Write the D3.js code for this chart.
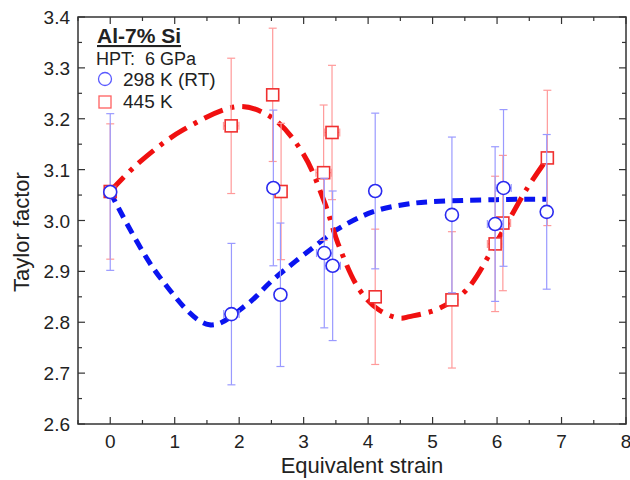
<!DOCTYPE html>
<html lang="en">
<head>
<meta charset="utf-8">
<script src="https://cdn.jsdelivr.net/npm/d3@7"></script>
<style>
  body { margin: 0; background: #fff; }
  text { font-family: "Liberation Sans", Arial, sans-serif; fill: #222; }
</style>
</head>
<body>
<svg id="mysvg" width="630" height="480"></svg>
<script>
// ---- data ----
// 298 K (RT), open circles
var rtX    = [0, 1.88, 2.53, 2.64, 3.32, 3.45, 4.11, 5.30, 5.97, 6.10, 6.77]
var rtY    = [3.056, 2.816, 3.064, 2.854, 2.936, 2.911, 3.058, 3.011, 2.993, 3.064, 3.017]
var rtErr  = [0.154, 0.139, 0.153, 0.141, 0.147, 0.147, 0.153, 0.153, 0.152, 0.154, 0.152]
var rtXErr = [0, 0.12, 0, 0, 0.12, 0.12, 0, 0, 0.12, 0.12, 0]

// 445 K, open squares
var htX    = [0, 1.876, 2.52, 2.65, 3.31, 3.44, 4.11, 5.30, 5.97, 6.09, 6.78]
var htY    = [3.057, 3.186, 3.247, 3.057, 3.094, 3.173, 2.850, 2.844, 2.954, 2.995, 3.123]
var htErr  = [0.133, 0.133, 0.131, 0.134, 0.133, 0.132, 0.133, 0.134, 0.133, 0.133, 0.133]
var htXErr = [0, 0.12, 0, 0, 0.12, 0.12, 0, 0, 0.12, 0.12, 0.05]

// guide-to-the-eye curves
var rtFitX = [0, 0.76, 1.54, 2.11, 2.52, 3.30, 3.50, 4.07, 4.59, 5.0, 6.0, 6.76]
var rtFitY = [3.056, 2.89, 2.795, 2.834, 2.883, 2.962, 2.981, 3.017, 3.032, 3.037, 3.041, 3.042]
var htFitX = [0, 0.43, 1.13, 2.0, 2.52, 2.99, 3.32, 3.55, 3.87, 4.17, 4.49, 4.64, 5.1, 5.52, 5.98, 6.45, 6.78]
var htFitY = [3.057, 3.112, 3.178, 3.224, 3.201, 3.132, 3.037, 2.949, 2.863, 2.824, 2.808, 2.811, 2.827, 2.863, 2.955, 3.06, 3.122]

var xTicks = [0, 1, 2, 3, 4, 5, 6, 7, 8]
var yTicks = [2.6, 2.7, 2.8, 2.9, 3.0, 3.1, 3.2, 3.3, 3.4]

var svg = d3.select("#mysvg")

var padL = 78, padR = 626, padT = 17, padB = 424

var x = d3.scaleLinear().domain([-0.5, 8]).range([padL, padR])
var y = d3.scaleLinear().domain([2.6, 3.4]).range([padB, padT])

// frame
svg.append("rect")
    .attr("x", padL).attr("y", padT)
    .attr("width", padR - padL).attr("height", padB - padT)
    .style("fill", "none").style("stroke", "#333").style("stroke-width", 1.5)

// ticks (inward, all four sides)
var xMinor = d3.range(-0.5, 8.01, 0.5)
var yMinor = d3.range(2.6, 3.401, 0.05)

function isMajorX(v) { return Math.abs(v - Math.round(v)) < 1e-6 }
function isMajorY(v) { return Math.abs(v * 10 - Math.round(v * 10)) < 1e-6 }

var tickG = svg.append("g").style("stroke", "#333").style("stroke-width", 1.2)
xMinor.forEach(function(v) {
    var len = isMajorX(v) ? 7 : 4
    tickG.append("line").attr("x1", x(v)).attr("x2", x(v)).attr("y1", padB).attr("y2", padB - len)
    tickG.append("line").attr("x1", x(v)).attr("x2", x(v)).attr("y1", padT).attr("y2", padT + len)
})
yMinor.forEach(function(v) {
    var len = isMajorY(v) ? 7 : 4
    tickG.append("line").attr("y1", y(v)).attr("y2", y(v)).attr("x1", padL).attr("x2", padL + len)
    tickG.append("line").attr("y1", y(v)).attr("y2", y(v)).attr("x1", padR).attr("x2", padR - len)
})

// tick labels
svg.selectAll(".xl").data(xTicks).enter().append("text")
    .attr("x", function(d) { return x(d) })
    .attr("y", 448)
    .attr("text-anchor", "middle")
    .style("font-size", "19px")
    .text(function(d) { return d })

svg.selectAll(".yl").data(yTicks).enter().append("text")
    .attr("x", 70)
    .attr("y", function(d) { return y(d) + 7 })
    .attr("text-anchor", "end")
    .style("font-size", "19px")
    .text(function(d) { return d.toFixed(1) })

// axis titles
svg.append("text")
    .attr("x", 362).attr("y", 473)
    .attr("text-anchor", "middle")
    .style("font-size", "22px")
    .text("Equivalent strain")

svg.append("text")
    .attr("transform", "translate(29,232) rotate(-90)")
    .attr("text-anchor", "middle")
    .style("font-size", "22px")
    .text("Taylor factor")

// fit curves
var line = d3.line()
    .x(function(d) { return x(d[0]) })
    .y(function(d) { return y(d[1]) })
    .curve(d3.curveCatmullRom)

svg.append("path")
    .attr("d", line(d3.zip(rtFitX, rtFitY)))
    .style("fill", "none").style("stroke", "#0a14f0")
    .style("stroke-width", 5).style("stroke-dasharray", "11,7")

svg.append("path")
    .attr("d", line(d3.zip(htFitX, htFitY)))
    .style("fill", "none").style("stroke", "#f01010")
    .style("stroke-width", 5).style("stroke-dasharray", "20,8,4,8")

// error bars + markers
function drawSeries(xs, ys, err, xerr, barColor, markColor, shape) {
    var g = svg.append("g")
    var data = xs.map(function(v, i) { return { x: v, y: ys[i], e: err[i], xe: xerr[i] } })
    data.forEach(function(d) {
        var px = x(d.x), py = y(d.y)
        g.append("line").attr("x1", px).attr("x2", px)
            .attr("y1", y(d.y + d.e)).attr("y2", y(d.y - d.e))
            .style("stroke", barColor).style("stroke-width", 1.2)
        ;[d.y + d.e, d.y - d.e].forEach(function(v) {
            g.append("line").attr("x1", px - 4).attr("x2", px + 4)
                .attr("y1", y(v)).attr("y2", y(v))
                .style("stroke", barColor).style("stroke-width", 1.2)
        })
        if (d.xe > 0) {
            g.append("line").attr("x1", x(d.x - d.xe)).attr("x2", x(d.x + d.xe))
                .attr("y1", py).attr("y2", py)
                .style("stroke", barColor).style("stroke-width", 1.2)
            ;[d.x - d.xe, d.x + d.xe].forEach(function(v) {
                g.append("line").attr("x1", x(v)).attr("x2", x(v))
                    .attr("y1", py - 4).attr("y2", py + 4)
                    .style("stroke", barColor).style("stroke-width", 1.2)
            })
        }
    })
    data.forEach(function(d) {
        var px = x(d.x), py = y(d.y)
        if (shape === "circle") {
            g.append("circle").attr("cx", px).attr("cy", py).attr("r", 6.5)
                .style("fill", "#fff").style("stroke", markColor).style("stroke-width", 1.6)
        } else {
            g.append("rect").attr("x", px - 6).attr("y", py - 6).attr("width", 12).attr("height", 12)
                .style("fill", "#fff").style("stroke", markColor).style("stroke-width", 1.6)
        }
    })
}

drawSeries(htX, htY, htErr, htXErr, "#ff9a9a", "#f03030", "square")
drawSeries(rtX, rtY, rtErr, rtXErr, "#9a9aff", "#2a2af0", "circle")

// legend block
svg.append("text")
    .attr("x", 97).attr("y", 43)
    .style("font-size", "21px").style("font-weight", "bold")
    .style("text-decoration", "underline")
    .text("Al-7% Si")

svg.append("text")
    .attr("x", 96).attr("y", 65)
    .style("font-size", "18px")
    .style("white-space", "pre")
    .text("HPT:  6 GPa")

svg.append("circle").attr("cx", 105).attr("cy", 79).attr("r", 6.5)
    .style("fill", "none").style("stroke", "#5a5aff").style("stroke-width", 1.3)
svg.append("text").attr("x", 123).attr("y", 86)
    .style("font-size", "19px").text("298 K (RT)")

svg.append("rect").attr("x", 99).attr("y", 96).attr("width", 12).attr("height", 12)
    .style("fill", "none").style("stroke", "#ff6060").style("stroke-width", 1.3)
svg.append("text").attr("x", 123).attr("y", 108)
    .style("font-size", "19px").text("445 K")
</script>
</body>
</html>
